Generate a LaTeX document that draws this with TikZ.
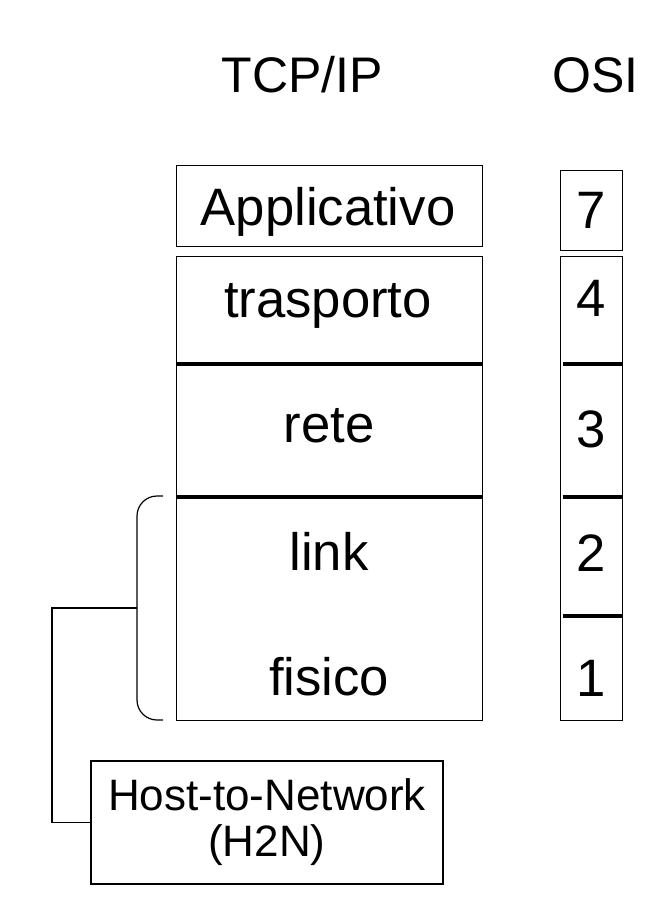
\documentclass[tikz,border=0pt]{standalone}
\usepackage{fontspec}
\setmainfont{Liberation Sans}
\usetikzlibrary{positioning, calc}

\begin{document}
\begin{tikzpicture}[x=0.75pt, y=-0.75pt, line width=0.9pt,
        lbl/.style={font=\fontsize{39.5}{44}\selectfont, anchor=base, inner sep=0pt},
        ttl/.style={font=\fontsize{37.5}{42}\selectfont, anchor=base, inner sep=0pt},
        box/.style={draw, inner sep=0pt, anchor=north west},
        sep/.style={line width=3pt}]
        \useasboundingbox (0,0) rectangle (658,898);

        % Titles
        \node[ttl] (tcpip) at (302.5,93) {TCP/IP};
        \node[ttl] (osi) at (595.5,93) {OSI};

        % Boxes
        \node[box, minimum width=229.5pt, minimum height=60.75pt] (appbox) at (176,165) {};
        \node[box, minimum width=46.5pt, minimum height=60pt] (sevenbox) at (560,170) {};
        \node[box, minimum width=229.5pt, minimum height=348pt] (stack) at (176,256) {};
        \node[box, minimum width=46.5pt, minimum height=348pt] (osistack) at (560,256) {};

        % Separators
        \foreach \y in {364,497} {
            \draw[sep] (stack.west |- 0,\y) -- (stack.east |- 0,\y);
        }
        \foreach \y in {364,497,616} {
            \draw[sep] ([xshift=2pt]osistack.west |- 0,\y) -- (osistack.east |- 0,\y);
        }

        % Layer labels
        \node[lbl] (app) at (328,226) {Applicativo};
        \node[lbl] (tra) at (328,317) {trasporto};
        \node[lbl] (ret) at (329,442) {rete};
        \node[lbl] (lnk) at (329,570) {link};
        \node[lbl] (fis) at (329,695) {fisico};

        \node[lbl] (l7) at (591,229) {7};
        \node[lbl] (l4) at (591,316) {4};
        \node[lbl] (l3) at (591,447) {3};
        \node[lbl] (l2) at (591,571) {2};
        \node[lbl] (l1) at (591,696) {1};

        % Host-to-Network
        \node[box, anchor=center, minimum width=264pt, minimum height=92.25pt, align=center,
              font=\fontsize{33}{34.5}\selectfont] (h2n) at (267,822.5) {Host-to-Network\\(H2N)};

        % Brace and link
        \draw[rounded corners=15pt] (163,496) -| (137,608) coordinate (bracetip) |- (163,720);
        \draw (bracetip) -- ++(-85,0) |- (h2n.west);
    \end{tikzpicture}
\end{document}
